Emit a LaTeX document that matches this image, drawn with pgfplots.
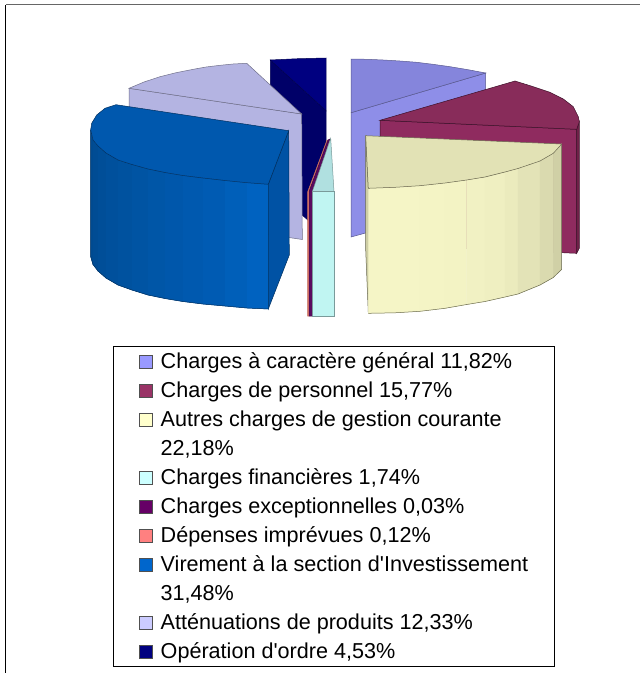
\documentclass[border=0pt]{standalone}
\usepackage{pgfplots}
\pgfplotsset{compat=1.18}
\usepackage{fontspec}
\setmainfont{Liberation Sans}
\definecolor{bd}{HTML}{004A90}\definecolor{bl}{HTML}{0062C0}
\definecolor{yl}{HTML}{F5F5C6}\definecolor{yd}{HTML}{D0D0A6}
\definecolor{periS}{HTML}{8E8EE8}\definecolor{periT}{HTML}{8585DC}\definecolor{periE}{HTML}{5A5A90}
\definecolor{navS}{HTML}{000068}\definecolor{navT}{HTML}{000080}\definecolor{navE}{HTML}{000050}
\definecolor{lav}{HTML}{B4B4E2}\definecolor{lavE}{HTML}{70708A}
\definecolor{blS}{HTML}{0052A4}\definecolor{blT}{HTML}{0058AE}\definecolor{blE}{HTML}{003060}
\definecolor{maF}{HTML}{8F2B5F}\definecolor{maS}{HTML}{6F2048}\definecolor{maT}{HTML}{882C5A}\definecolor{maE}{HTML}{3C1028}
\definecolor{yeS}{HTML}{CFCFA5}\definecolor{yeT}{HTML}{E2E2B5}\definecolor{yeE}{HTML}{6A6A50}
\definecolor{saF}{HTML}{E8806E}\definecolor{saE}{HTML}{C06858}
\definecolor{puF}{HTML}{5A0A60}\definecolor{puE}{HTML}{400848}
\definecolor{cyT}{HTML}{B0E0E0}\definecolor{cyF}{HTML}{C0F5F2}\definecolor{cyE}{HTML}{7A9A9A}
\definecolor{lg1}{HTML}{9999FF}\definecolor{lg2}{HTML}{993366}\definecolor{lg3}{HTML}{FFFFCC}
\definecolor{lg4}{HTML}{CCFFFF}\definecolor{lg5}{HTML}{660066}\definecolor{lg6}{HTML}{FF8080}
\definecolor{lg7}{HTML}{0066CC}\definecolor{lg8}{HTML}{CCCCFF}\definecolor{lg9}{HTML}{000080}
\definecolor{lgE}{HTML}{505050}
\newcommand\poly[3]{\addplot[fill=#1,draw=#2,line width=0.5pt,forget plot] coordinates {#3} --cycle;}
\newcommand\strip[2]{\addplot[fill=#1,draw=#1,line width=0.4pt,forget plot] coordinates {#2} --cycle;}
\newcommand\edge[2]{\addplot[draw=#1,line width=0.5pt,forget plot] coordinates {#2};}
\begin{document}
\begin{tikzpicture}
\useasboundingbox (0,0) rectangle (640pt,673pt);
\begin{axis}[at={(0,0)},anchor=south west,scale only axis,width=640pt,height=673pt,
 xmin=0,xmax=640,ymin=0,ymax=673,y dir=reverse,hide axis,clip=false,
 legend image code/.code={\draw[#1,line width=0.7pt] (-21pt,-7pt) rectangle (-8pt,6pt);},
 legend cell align=left,
 legend style={at={(axis cs:112,346)},anchor=north west,draw=black,line width=0.7pt,fill=white,
   inner xsep=26.5pt,inner ysep=0.5pt,row sep=0pt,xshift=0.5pt,
   nodes={inner xsep=0pt,inner ysep=0pt,text height=22pt,text depth=7pt,font=\fontsize{21.6}{25}\selectfont},
   /tikz/every odd column/.style={column sep=0pt}},
]
% frame
\addplot[draw=black,line width=1pt,forget plot] coordinates {(5.5,673) (5.5,4.5)};
\addplot[draw=gray!80!black,line width=1pt,forget plot] coordinates {(5.5,4.5) (640,4.5)};
% periwinkle
\poly{periS}{periE}{(351,112.7)(485.7,73)(485.7,200)(351,237)}
\poly{periT}{periE}{(351,112.7)(351,59)(367,59.3)(383.3,60)(400,61)(416.7,62.3)(433,64.3)(450,66.7)(468,69.7)(485.7,73)}
% navy
\poly{navS}{navE}{(270.3,60)(326,110.7)(326,236)(270.3,187)}
\poly{navT}{navE}{(270.3,60)(298,58.7)(326,58)(326,110.7)}
% lavender
\poly{lav}{lavE}{(129,88.3)(301.7,114)(302.3,239.5)(129,214)}
\poly{lav}{lavE}{(129,88.3)(144,82)(160,76.7)(176,72.7)(193.3,69.3)(206,67)(220,65.3)(233,64)(246.7,63.3)(301.7,114)}
% blue
\poly{blS}{blE}{(268.3,184.3)(288.7,130.7)(289.3,255)(268.3,309)}
\strip{bl!0!bd}{(90.7,130)(93,140)(93,264.5)(90.7,256.7)}
\strip{bl!8!bd}{(93,140)(98,146)(98,271)(93,264.5)}
\strip{bl!16!bd}{(98,146)(106,153)(106,278)(98,271)}
\strip{bl!24!bd}{(106,153)(118,160)(118,285)(106,278)}
\strip{bl!32!bd}{(118,160)(132,164.5)(132,290)(118,285)}
\strip{bl!40!bd}{(132,164.5)(148,169)(148,295)(132,290)}
\strip{bl!48!bd}{(148,169)(165,172.5)(165,298.5)(148,295)}
\strip{bl!56!bd}{(165,172.5)(183,175.5)(183,301.5)(165,298.5)}
\strip{bl!64!bd}{(183,175.5)(203,178)(203,304)(183,301.5)}
\strip{bl!72!bd}{(203,178)(225,180.5)(225,306)(203,304)}
\strip{bl!86!bd}{(225,180.5)(247,182.7)(247,308)(225,306)}
\strip{bl!100!bd}{(247,182.7)(268.3,184.3)(268.3,309)(247,308)}
\poly{blT}{blE}{(116,104.7)(288.7,130.7)(268.3,184.3)(247,182.7)(225,180.5)(203,178)(183,175.5)(165,172.5)(148,169)(132,164.5)(118,160)(106,153)(98,146)(93,140)(90.7,130)(91.7,123.3)(96.7,115)(105,108.3)}
\edge{blE}{(90.7,130)(90.7,256.7)(93,264.5)(98,271)(106,278)(118,285)(132,290)(148,295)(165,298.5)(183,301.5)(203,304)(225,306)(247,308)(268.3,309)(268.3,184.3)}
% maroon
\poly{maF}{maE}{(380,120.3)(576.7,129.3)(576.7,253.3)(380,245)}
\poly{maS}{maE}{(576.7,129.3)(579.3,121.7)(579.3,248.3)(576.7,253.3)}
\poly{maT}{maE}{(380,120.3)(515,81)(524,83.8)(533.3,86.7)(550,92.3)(563.3,99)(573.3,106.7)(578.3,116.7)(579.3,121.7)(576.7,129.3)}
% yellow
\poly{yeS}{yeE}{(365.7,135.7)(368.3,188.3)(368.3,313.3)(365.7,250)}
\strip{yl}{(368.3,188.3)(395,187.3)(395,312.8)(368.3,313.3)}
\strip{yl}{(395,187.3)(420,185.7)(420,311.3)(395,312.8)}
\strip{yd!3!yl}{(420,185.7)(445,183)(445,308.3)(420,311.3)}
\strip{yd!6!yl}{(445,183)(466.7,180)(466.7,304.5)(445,308.3)}
\strip{yd!10!yl}{(466.7,180)(485,177)(485,301.5)(466.7,304.5)}
\strip{yd!16!yl}{(485,177)(505,172)(505,297)(485,301.5)}
\strip{yd!28!yl}{(505,172)(518,168.5)(518,294)(505,297)}
\strip{yd!48!yl}{(518,168.5)(540,161)(540,285)(518,294)}
\strip{yd!72!yl}{(540,161)(553.3,153.3)(553.3,277.5)(540,285)}
\strip{yd}{(553.3,153.3)(561.7,144)(561.7,269.3)(553.3,277.5)}
\poly{yeT}{yeE}{(365.7,135.7)(561.7,144)(553.3,153.3)(540,161)(518,168.5)(505,172)(485,177)(466.7,180)(445,183)(420,185.7)(395,187.3)(368.3,188.3)}
\edge{yeE}{(368.3,313.3)(395,312.8)(420,311.3)(445,308.3)(466.7,304.5)(485,301.5)(505,297)(518,294)(540,285)(553.3,277.5)(561.7,269.3)(561.7,144)}
% thin slices
\poly{saF}{saE}{(307.7,191.7)(327,140)(328,140)(309,191.7)(309,316)(307.7,316)}
\poly{puF}{puE}{(309,191.7)(328,140)(330,139)(312.3,191.7)(312.3,316)(309,316)}
% cyan
\poly{cyT}{cyE}{(312.3,191.7)(330.7,138.3)(334,191.7)}
\poly{cyF}{cyE}{(312.3,191.7)(334,191.7)(334,316)(312.3,316)}
% legend
\addlegendimage{fill=lg1,draw=lgE}\addlegendentry{Charges à caractère général 11,82\%}
\addlegendimage{fill=lg2,draw=lgE}\addlegendentry{Charges de personnel 15,77\%}
\addlegendimage{fill=lg3,draw=lgE}\addlegendentry{Autres charges de gestion courante}
\addlegendimage{empty legend}\addlegendentry{22,18\%}
\addlegendimage{fill=lg4,draw=lgE}\addlegendentry{Charges financières 1,74\%}
\addlegendimage{fill=lg5,draw=lgE}\addlegendentry{Charges exceptionnelles 0,03\%}
\addlegendimage{fill=lg6,draw=lgE}\addlegendentry{Dépenses imprévues 0,12\%}
\addlegendimage{fill=lg7,draw=lgE}\addlegendentry{Virement à la section d\textquotesingle Investissement}
\addlegendimage{empty legend}\addlegendentry{31,48\%}
\addlegendimage{fill=lg8,draw=lgE}\addlegendentry{Atténuations de produits 12,33\%}
\addlegendimage{fill=lg9,draw=lgE}\addlegendentry{Opération d\textquotesingle ordre 4,53\%}
\end{axis}
\end{tikzpicture}
\end{document}
